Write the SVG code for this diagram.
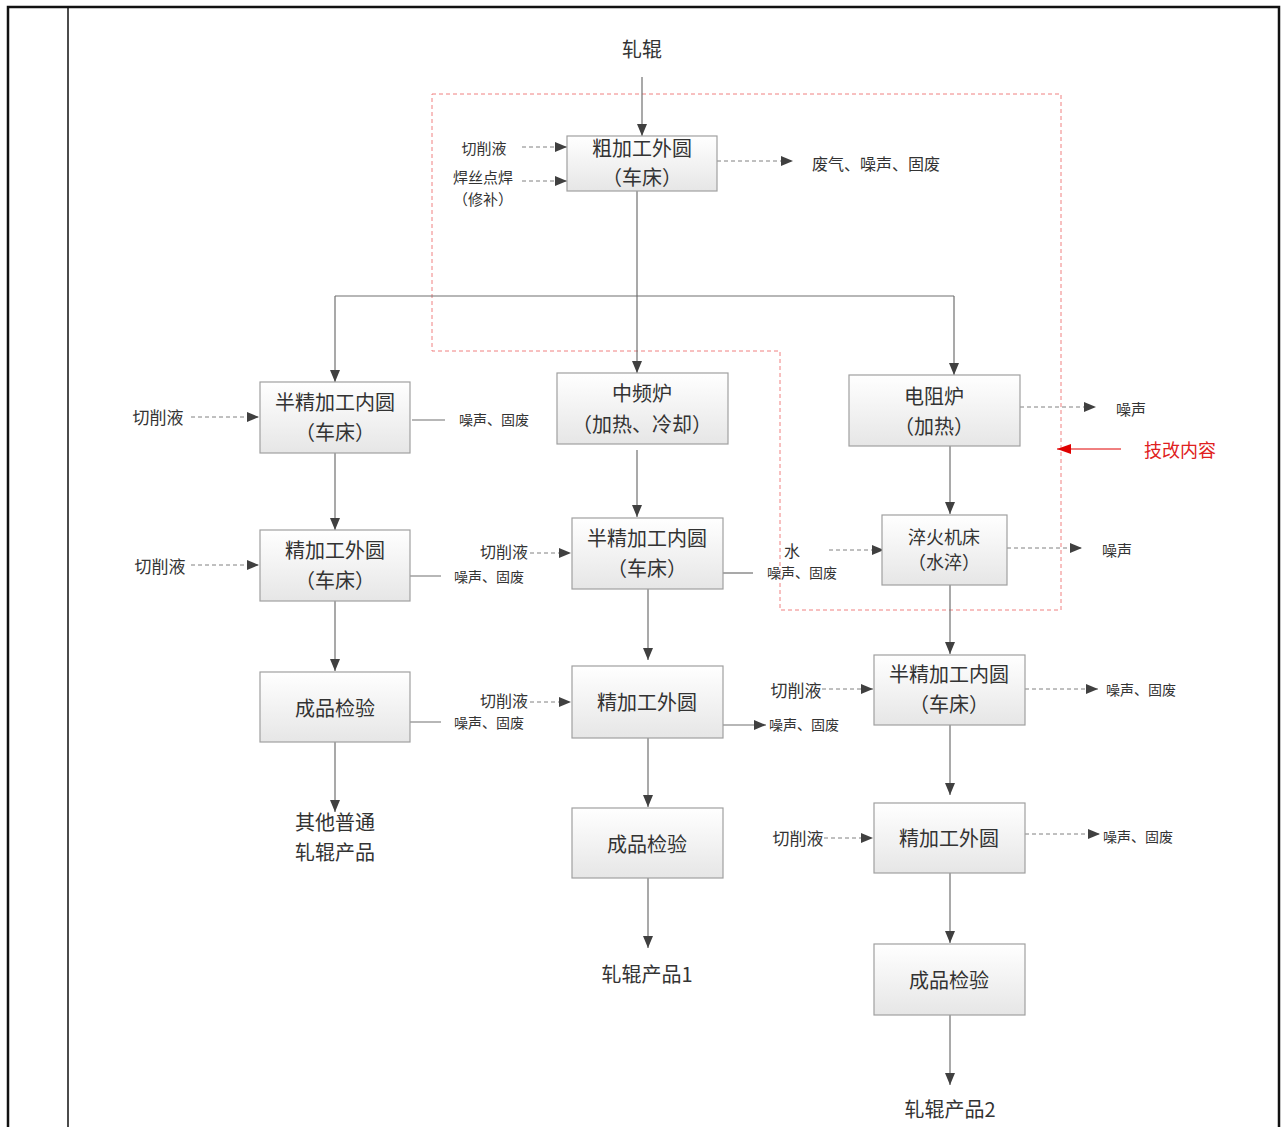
<svg xmlns="http://www.w3.org/2000/svg" width="1284" height="1127" viewBox="0 0 1284 1127">
<style>
text{font-family:"Noto Sans CJK SC","Liberation Serif",serif;fill:#333;text-anchor:middle;dominant-baseline:central}
.b{font-size:20px}
.m{font-size:17px}
.s{font-size:14px}
.box{fill:url(#g);stroke:#a0a0a0;stroke-width:1.2}
.ln{stroke:#707070;stroke-width:1.2;fill:none}
.ar{marker-end:url(#ah)}
.d{stroke:#808080;stroke-width:1;stroke-dasharray:4 3;fill:none}
</style>
<defs>
<linearGradient id="g" x1="0" y1="0" x2="0" y2="1">
<stop offset="0" stop-color="#ffffff"/>
<stop offset="1" stop-color="#e6e6e6"/>
</linearGradient>
<marker id="ah" markerWidth="12" markerHeight="10" refX="12" refY="5" orient="auto" markerUnits="userSpaceOnUse">
<path d="M0,0 L12,5 L0,10 z" fill="#404040"/>
</marker>
<marker id="rah" markerWidth="14" markerHeight="10" refX="14" refY="5" orient="auto" markerUnits="userSpaceOnUse">
<path d="M0,0 L14,5 L0,10 z" fill="#e00000"/>
</marker>
</defs>
<rect width="1284" height="1127" fill="#ffffff"/>
<g id="frame">
<path d="M8,1127 V7 H1279 V1127" fill="none" stroke="#111" stroke-width="2.5"/>
<line x1="68" y1="7" x2="68" y2="1127" stroke="#111" stroke-width="1.5"/>
</g>
<g id="region">
<path d="M432,94 H1061 V610 H780 V351 H432 Z" fill="none" stroke="#f08080" stroke-width="1" stroke-dasharray="4 3"/>
<line x1="1121" y1="449" x2="1057" y2="449" stroke="#e00000" stroke-width="1" marker-end="url(#rah)"/>
<text x="1180" y="449" style="font-size:18px;fill:#e02020">技改内容</text>
</g>
<g id="connectors">
<line class="ln ar" x1="642" y1="77" x2="642" y2="136"/>
<line class="ln ar" x1="637" y1="191" x2="637" y2="373"/>
<path class="ln" d="M335,296 H954"/>
<line class="ln ar" x1="335" y1="296" x2="335" y2="382"/>
<line class="ln ar" x1="954" y1="296" x2="954" y2="375"/>
<line class="ln ar" x1="335" y1="453" x2="335" y2="530"/>
<line class="ln ar" x1="335" y1="601" x2="335" y2="671"/>
<line class="ln ar" x1="335" y1="742" x2="335" y2="812"/>
<line class="ln ar" x1="637" y1="450" x2="637" y2="517"/>
<line class="ln ar" x1="648" y1="589" x2="648" y2="660"/>
<line class="ln ar" x1="648" y1="738" x2="648" y2="807"/>
<line class="ln ar" x1="648" y1="878" x2="648" y2="948"/>
<line class="ln ar" x1="950" y1="446" x2="950" y2="514"/>
<line class="ln ar" x1="950" y1="585" x2="950" y2="654"/>
<line class="ln ar" x1="950" y1="725" x2="950" y2="795"/>
<line class="ln ar" x1="950" y1="873" x2="950" y2="943"/>
<line class="ln ar" x1="950" y1="1015" x2="950" y2="1085"/>
<line class="d ar" x1="522" y1="147" x2="567" y2="147"/>
<line class="d ar" x1="522" y1="181" x2="567" y2="181"/>
<line class="d ar" x1="717" y1="161" x2="793" y2="161"/>
<line class="d ar" x1="191" y1="417" x2="259" y2="417"/>
<line class="ln" x1="412" y1="420" x2="445" y2="420"/>
<line class="d ar" x1="191" y1="565" x2="259" y2="565"/>
<line class="ln" x1="408" y1="576" x2="441" y2="576"/>
<line class="d ar" x1="530" y1="553" x2="571" y2="553"/>
<line class="ln" x1="721" y1="573" x2="753" y2="573"/>
<line class="d ar" x1="829" y1="550" x2="884" y2="550"/>
<line class="d ar" x1="1020" y1="407" x2="1096" y2="407"/>
<line class="d ar" x1="1007" y1="548" x2="1082" y2="548"/>
<line class="ln" x1="408" y1="722" x2="441" y2="722"/>
<line class="d ar" x1="530" y1="702" x2="571" y2="702"/>
<line class="ln ar" x1="723" y1="725" x2="766" y2="725"/>
<line class="d ar" x1="822" y1="689" x2="873" y2="689"/>
<line class="d ar" x1="1025" y1="689" x2="1098" y2="689"/>
<line class="d ar" x1="824" y1="838" x2="873" y2="838"/>
<line class="d ar" x1="1025" y1="834" x2="1100" y2="834"/>
</g>
<g id="n1"><rect class="box" x="567" y="136" width="150" height="55"/><text class="b" x="642" y="147">粗加工外圆</text><text class="b" x="642" y="176">（车床）</text></g>
<g id="n2"><rect class="box" x="260" y="382" width="150" height="71"/><text class="b" x="335" y="401">半精加工内圆</text><text class="b" x="335" y="431">（车床）</text></g>
<g id="n3"><rect class="box" x="557" y="373" width="171" height="71"/><text class="b" x="642" y="392">中频炉</text><text class="b" x="642" y="423">（加热、冷却）</text></g>
<g id="n4"><rect class="box" x="849" y="375" width="171" height="71"/><text class="b" x="934" y="395">电阻炉</text><text class="b" x="934" y="425">（加热）</text></g>
<g id="n5"><rect class="box" x="260" y="530" width="150" height="71"/><text class="b" x="335" y="549">精加工外圆</text><text class="b" x="335" y="579">（车床）</text></g>
<g id="n6"><rect class="box" x="572" y="518" width="151" height="71"/><text class="b" x="647" y="537">半精加工内圆</text><text class="b" x="647" y="567">（车床）</text></g>
<g id="n7"><rect class="box" x="882" y="515" width="125" height="70"/><text x="944" y="536" style="font-size:18px">淬火机床</text><text x="944" y="561" style="font-size:18px">（水淬）</text></g>
<g id="n8"><rect class="box" x="260" y="672" width="150" height="70"/><text class="b" x="335" y="707">成品检验</text></g>
<g id="n9"><rect class="box" x="572" y="666" width="151" height="72"/><text class="b" x="647" y="701">精加工外圆</text></g>
<g id="n10"><rect class="box" x="874" y="655" width="151" height="70"/><text class="b" x="949" y="673">半精加工内圆</text><text class="b" x="949" y="703">（车床）</text></g>
<g id="n11"><rect class="box" x="572" y="808" width="151" height="70"/><text class="b" x="647" y="843">成品检验</text></g>
<g id="n12"><rect class="box" x="874" y="803" width="151" height="70"/><text class="b" x="949" y="837">精加工外圆</text></g>
<g id="n13"><rect class="box" x="874" y="944" width="151" height="71"/><text class="b" x="949" y="979">成品检验</text></g>
<g id="labels">
<text class="b" x="642" y="48">轧辊</text>
<text class="b" x="335" y="821">其他普通</text>
<text class="b" x="335" y="851">轧辊产品</text>
<text class="b" x="647" y="973">轧辊产品1</text>
<text class="b" x="950" y="1108">轧辊产品2</text>
<text x="484" y="147" style="font-size:15px">切削液</text>
<text x="483" y="176" style="font-size:15px">焊丝点焊</text>
<text x="483" y="198" style="font-size:15px">（修补）</text>
<text x="876" y="163" style="font-size:16px">废气、噪声、固废</text>
<text class="m" x="158" y="416">切削液</text>
<text class="s" x="494" y="419">噪声、固废</text>
<text class="m" x="160" y="565">切削液</text>
<text x="504" y="551" style="font-size:16px">切削液</text>
<text class="s" x="489" y="576">噪声、固废</text>
<text x="792" y="550" style="font-size:16px">水</text>
<text class="s" x="802" y="572">噪声、固废</text>
<text x="1131" y="408" style="font-size:15px">噪声</text>
<text x="1117" y="549" style="font-size:15px">噪声</text>
<text x="504" y="700" style="font-size:16px">切削液</text>
<text class="s" x="489" y="722">噪声、固废</text>
<text class="s" x="804" y="724">噪声、固废</text>
<text class="m" x="796" y="689">切削液</text>
<text class="s" x="1141" y="689">噪声、固废</text>
<text class="m" x="798" y="837">切削液</text>
<text class="s" x="1138" y="836">噪声、固废</text>
</g>
</svg>
